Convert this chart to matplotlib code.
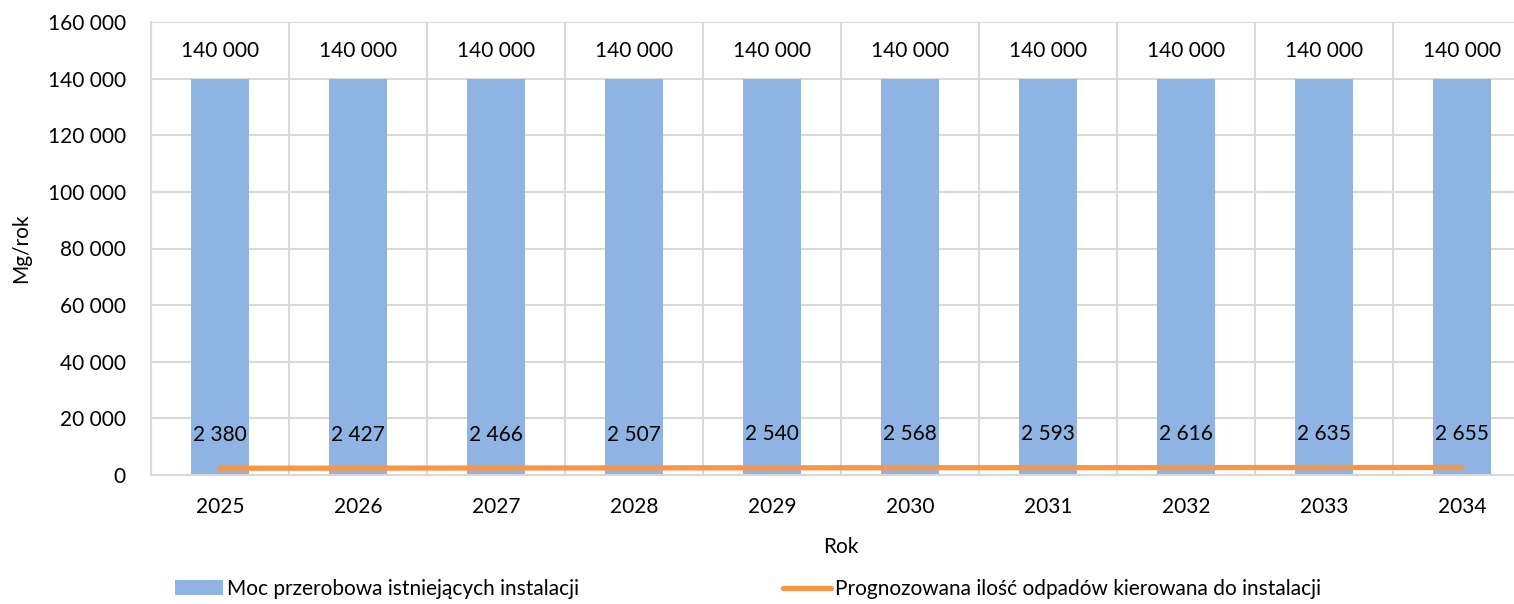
import matplotlib.pyplot as plt
from matplotlib.ticker import FuncFormatter

# Data
years = ["2025", "2026", "2027", "2028", "2029", "2030", "2031", "2032", "2033", "2034"]
capacity = [140000, 140000, 140000, 140000, 140000, 140000, 140000, 140000, 140000, 140000]
forecast = [2380, 2427, 2466, 2507, 2540, 2568, 2593, 2616, 2635, 2655]

bar_color = "#8FB4E3"
line_color = "#F79646"
grid_color = "#D9D9D9"

plt.rcParams['font.family'] = ['Lato', 'DejaVu Sans']
plt.rcParams['font.size'] = 15


def fmt(v, pos=None):
    return f"{int(v):,}".replace(",", " ")


fig = plt.figure(figsize=(15.14, 6.04), dpi=100)
ax = fig.add_axes([151 / 1514, 129 / 604, 1380 / 1514, 453 / 604])

x = list(range(len(years)))

bars = ax.bar(x, capacity, width=0.42, color=bar_color, zorder=2,
              label="Moc przerobowa istniejących instalacji")
line, = ax.plot(x, forecast, color=line_color, linewidth=3.8, solid_capstyle='round',
                zorder=3, label="Prognozowana ilość odpadów kierowana do instalacji")

# Data labels
for xi, v in zip(x, capacity):
    ax.annotate(fmt(v), (xi, v), xytext=(0, 20), textcoords='offset points',
                ha='center', va='center')
for xi, v in zip(x, forecast):
    ax.annotate(fmt(v), (xi, v), xytext=(0, 24), textcoords='offset points',
                ha='center', va='center')

ax.set_xlim(-0.5, len(years) - 0.5)
ax.set_ylim(0, 160000)
ax.set_yticks(range(0, 160001, 20000))
ax.yaxis.set_major_formatter(FuncFormatter(fmt))
ax.set_xticks(x)
ax.set_xticklabels(years)

# Gridlines: horizontal at ticks, vertical at category boundaries
ax.grid(axis='y', color=grid_color, linewidth=1.5, zorder=0)
for b in range(len(years) + 1):
    ax.axvline(b - 0.5, color=grid_color, linewidth=1.5, zorder=0)

for side in ['top', 'right']:
    ax.spines[side].set_visible(False)
for side in ['left', 'bottom']:
    ax.spines[side].set_color(grid_color)
    ax.spines[side].set_linewidth(1.5)

ax.tick_params(axis='both', length=0)
ax.tick_params(axis='y', pad=18)
ax.tick_params(axis='x', pad=16)

ax.set_xlabel("Rok", labelpad=14)
ax.set_ylabel("Mg/rok", labelpad=12)

fig.legend(handles=[bars, line], loc='center', bbox_to_anchor=(0.494, 0.025),
           ncol=2, frameon=False, handlelength=2.3, handletextpad=0.2,
           columnspacing=9.8)

plt.savefig("out.png", dpi=100)
